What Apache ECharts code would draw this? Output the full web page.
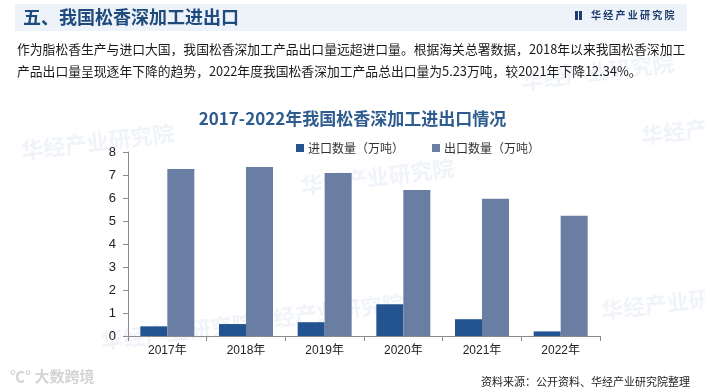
<!DOCTYPE html>
<html>
<head>
<meta charset="utf-8">
<script src="https://cdn.jsdelivr.net/npm/echarts@6/dist/echarts.min.js"></script>
<style>
html,body{margin:0;padding:0;background:#fff;}
#chart{width:705px;height:392px;}
</style>
</head>
<body>
<div id="chart"></div>
<script>
var categories = ['2017年','2018年','2019年','2020年','2021年','2022年'];
var importValues = [0.42, 0.52, 0.6, 1.38, 0.73, 0.2];
var exportValues = [7.26, 7.35, 7.09, 6.35, 5.97, 5.23];
var seriesNames = ['进口数量（万吨）','出口数量（万吨）'];
var yTicks = {min:0, max:8, interval:1};
var headerTitle = '五、我国松香深加工进出口';
var chartTitle = '2017-2022年我国松香深加工进出口情况';
var paraLine1 = '作为脂松香生产与进口大国，我国松香深加工产品出口量远超进口量。根据海关总署数据，2018年以来我国松香深加工';
var paraLine2 = '产品出口量呈现逐年下降的趋势，2022年度我国松香深加工产品总出口量为5.23万吨，较2021年下降12.34%。';
var sourceText = '资料来源：公开资料、华经产业研究院整理';
var logoText = '华 经 产 业 研 究 院';

var CJK = '"Noto Sans CJK SC","Liberation Sans",sans-serif';
var NUM = '"Liberation Sans","Noto Sans CJK SC",sans-serif';

var chart = echarts.init(document.getElementById('chart'), null, {renderer:'canvas'});

var watermarks = [[20,140],[300,175],[520,70],[640,125],[250,310],[600,300],[100,330]].map(function(p){
  return {type:'text', x:p[0], y:p[1], rotation:0.12, silent:true, z:-1,
    style:{text:'华经产业研究院', font:'bold 22px '+CJK, fill:'#f0f3f8'}};
});

chart.setOption({
  backgroundColor:'#ffffff',
  animation:false,
  title:{text:chartTitle, left:'center', top:105,
    textStyle:{fontSize:17, fontWeight:'bold', color:'#2E5C8E', fontFamily:CJK}},
  legend:{left:291, top:137, itemWidth:8, itemHeight:8, itemGap:28, icon:'rect',
    textStyle:{fontSize:12, color:'#333', fontFamily:CJK, padding:[0,0,0,-1]},
    data:seriesNames},
  grid:{left:128, right:105, top:152, bottom:56},
  xAxis:{type:'category', data:categories,
    axisLine:{lineStyle:{color:'#8c8c8c'}},
    axisTick:{show:true, alignWithLabel:false, length:5, lineStyle:{color:'#8c8c8c'}},
    axisLabel:{fontSize:12, color:'#222', fontFamily:NUM, margin:9}},
  yAxis:{type:'value', min:yTicks.min, max:yTicks.max, interval:yTicks.interval,
    splitLine:{show:false},
    axisLine:{show:true, lineStyle:{color:'#8c8c8c'}},
    axisTick:{show:true, length:5, lineStyle:{color:'#8c8c8c'}},
    axisLabel:{fontSize:13, color:'#222', fontFamily:NUM, margin:12}},
  series:[
    {name:seriesNames[0], type:'bar', data:importValues, barWidth:27, barGap:'0%',
      itemStyle:{color:'#23548F'}},
    {name:seriesNames[1], type:'bar', data:exportValues, barWidth:27,
      itemStyle:{color:'#6A7DA2'}}
  ],
  graphic: watermarks.concat([
    {type:'rect', shape:{x:15, y:4, width:672, height:27}, style:{fill:'#EEF3FA'}, z:0, silent:true},
    {type:'text', x:23, y:8, style:{text:headerTitle, font:'bold 18px '+CJK, fill:'#1F4A7C'}, z:1},
    {type:'rect', shape:{x:575, y:11, width:3, height:9}, style:{fill:'#1F3C6E'}, z:1},
    {type:'rect', shape:{x:579, y:11, width:3, height:9}, style:{fill:'#1F3C6E'}, z:1},
    {type:'text', x:591, y:10, style:{text:logoText, font:'bold 10px '+CJK, fill:'#1F3C6E'}, z:1},
    {type:'text', x:17, y:43, style:{text:paraLine1, font:'12.8px '+CJK, fill:'#1a1a1a'}, z:1},
    {type:'text', x:17, y:65, style:{text:paraLine2, font:'12.8px '+CJK, fill:'#1a1a1a'}, z:1},
    {type:'text', x:690, y:376, style:{text:sourceText, font:'11px '+CJK, fill:'#222', align:'right'}, z:1},
    {type:'text', x:10, y:369, style:{text:'℃° 大数跨境', font:'bold 15px '+CJK, fill:'#d4d4d4'}, z:1}
  ])
});
</script>
</body>
</html>
